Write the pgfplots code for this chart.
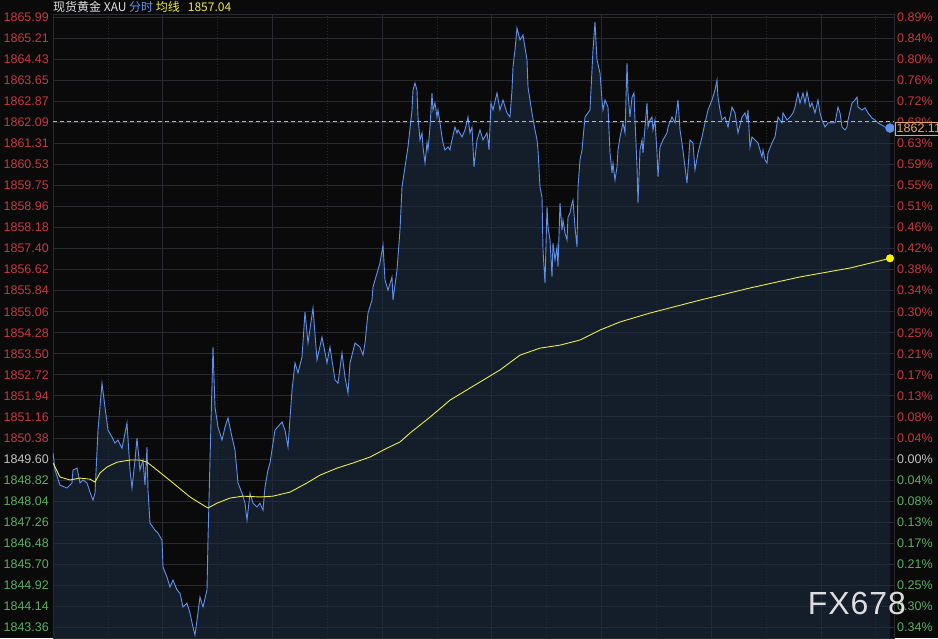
\documentclass[border=0pt]{standalone}
\usepackage{pgfplots}
\pgfplotsset{compat=1.18}
\usepackage{pgfplotstable}
\usepackage{fontspec}
\setmainfont{Liberation Sans}
\newfontfamily\cjk{Noto Sans CJK SC}
\definecolor{bg}{RGB}{10,10,10}
\definecolor{gridc}{RGB}{40,42,48}
\definecolor{upred}{RGB}{200,55,65}
\definecolor{dngreen}{RGB}{90,175,100}
\definecolor{flatgray}{RGB}{195,195,195}
\definecolor{lineblue}{RGB}{95,145,235}
\definecolor{avgyellow}{RGB}{235,235,70}
\definecolor{areafill}{RGB}{28,42,64}
\definecolor{refor}{RGB}{230,170,100}
\definecolor{titlew}{RGB}{225,225,225}
\newcommand\R[1]{\textcolor{upred}{#1}}
\newcommand\G[1]{\textcolor{dngreen}{#1}}

\pgfplotstableread{
x y
53 1849.82
55 1849.19
60 1848.63
67 1848.52
72 1848.71
73 1849.19
77 1849.26
78 1849.08
80 1848.71
83 1848.82
87 1848.71
90 1848.37
93 1848.07
95 1848.33
98 1850.67
102 1852.41
105 1851.52
108 1850.67
112 1850.41
115 1850.19
118 1850.30
122 1850.00
127 1850.93
130 1849.19
132 1848.52
135 1849.56
137 1850.37
140 1849.19
143 1849.56
145 1848.63
147 1850.04
148 1848.45
150 1847.22
155 1846.96
158 1846.85
162 1846.59
163 1845.59
167 1845.22
170 1844.85
173 1845.11
177 1844.74
180 1844.62
183 1844.11
187 1844.25
190 1843.88
193 1843.36
195 1843.07
197 1843.62
200 1844.48
203 1844.11
207 1844.74
208 1846.59
210 1849.56
213 1853.75
215 1851.52
218 1850.78
222 1850.30
225 1850.78
228 1851.12
232 1850.41
235 1849.93
238 1848.71
242 1848.33
245 1847.96
247 1847.33
250 1848.33
253 1847.96
257 1847.82
260 1847.96
263 1847.70
265 1848.56
268 1849.19
270 1849.45
275 1850.67
282 1850.97
285 1850.67
288 1850.04
292 1852.15
295 1853.16
298 1852.79
302 1853.38
305 1855.05
308 1853.90
313 1855.20
317 1853.27
322 1854.12
327 1853.16
330 1853.75
335 1852.53
338 1852.41
342 1853.53
345 1852.64
348 1852.04
350 1853.16
355 1853.90
360 1853.75
363 1853.45
365 1853.90
368 1855.01
372 1855.49
373 1855.98
377 1856.49
380 1856.87
383 1857.53
385 1856.24
388 1855.86
392 1856.35
393 1855.49
397 1856.61
400 1858.09
402 1859.68
405 1860.43
408 1861.17
412 1862.54
413 1863.28
415 1863.54
417 1863.28
418 1862.28
420 1861.43
422 1861.69
423 1861.17
425 1860.57
427 1861.32
428 1861.06
430 1861.91
432 1863.17
433 1862.54
435 1862.80
437 1862.28
438 1862.54
440 1862.06
442 1861.54
443 1861.32
445 1861.06
448 1861.17
450 1861.06
452 1861.43
455 1861.91
457 1861.69
458 1861.80
462 1861.54
465 1861.80
468 1862.28
470 1861.69
472 1861.91
474 1860.43
477 1861.43
480 1861.80
483 1861.43
487 1861.69
488 1861.43
489 1861.06
491 1862.80
493 1862.54
497 1863.17
500 1862.54
503 1862.91
507 1862.43
510 1862.28
512 1863.28
513 1864.14
515 1864.77
517 1865.58
520 1865.14
523 1865.32
527 1864.40
528 1863.39
532 1862.43
535 1861.80
537 1861.43
538 1861.06
540 1859.68
542 1859.31
543 1857.35
545 1856.12
547 1858.94
548 1858.20
550 1857.72
552 1856.35
553 1857.61
555 1856.98
557 1857.46
558 1856.72
560 1859.09
562 1858.09
563 1858.46
565 1857.98
567 1857.72
568 1858.57
570 1858.72
572 1859.09
573 1859.20
575 1858.20
577 1857.46
578 1859.68
580 1860.69
582 1861.06
585 1862.28
590 1862.54
593 1864.77
595 1865.80
597 1864.40
600 1863.91
602 1862.91
603 1862.54
605 1862.91
608 1862.65
610 1860.95
612 1860.20
613 1860.57
615 1859.94
617 1860.43
618 1861.06
620 1861.54
623 1862.06
625 1861.69
627 1864.28
628 1863.17
630 1862.28
632 1863.02
634 1863.17
635 1862.17
637 1860.43
638 1859.09
640 1861.06
642 1861.43
643 1860.95
645 1861.91
647 1862.80
648 1861.91
650 1862.17
652 1862.28
653 1861.80
655 1862.17
657 1860.95
658 1860.06
660 1861.17
663 1861.43
667 1861.69
668 1861.91
672 1862.28
675 1862.06
678 1862.91
680 1861.80
682 1861.32
685 1860.43
687 1859.83
690 1861.43
693 1861.32
695 1860.32
698 1860.95
702 1861.54
705 1862.06
708 1862.54
712 1862.91
715 1863.28
717 1863.65
718 1863.02
720 1862.54
722 1862.17
725 1862.28
728 1861.91
732 1862.65
735 1862.43
738 1861.69
742 1862.28
745 1862.43
747 1862.17
748 1862.54
750 1861.17
752 1861.54
755 1861.43
758 1861.32
762 1860.80
763 1861.06
765 1860.69
767 1860.57
768 1860.95
772 1861.32
775 1861.54
778 1862.28
782 1862.06
783 1862.43
787 1862.17
790 1862.28
793 1862.43
795 1862.65
798 1863.17
800 1862.80
803 1863.17
805 1862.80
807 1863.21
810 1862.65
812 1862.80
815 1862.43
818 1862.91
820 1862.43
822 1862.17
825 1861.91
828 1862.06
832 1862.06
835 1862.06
838 1862.65
840 1862.43
842 1861.91
845 1861.80
847 1861.91
848 1862.17
852 1862.80
855 1862.91
857 1863.02
858 1862.65
862 1862.54
865 1862.62
868 1862.43
872 1862.24
875 1862.17
878 1862.06
882 1861.98
885 1861.91
890 1861.87
}\bluedata

\pgfplotstableread{
x y
53 1849.45
60 1848.93
70 1848.82
80 1848.89
90 1848.85
95 1848.74
100 1849.08
107 1849.30
117 1849.48
130 1849.56
140 1849.56
147 1849.48
157 1849.19
173 1848.71
190 1848.19
203 1847.89
208 1847.78
217 1847.96
230 1848.15
243 1848.22
260 1848.19
273 1848.22
290 1848.37
307 1848.71
320 1849.00
337 1849.26
353 1849.45
370 1849.67
387 1850.00
400 1850.23
410 1850.56
430 1851.15
450 1851.78
470 1852.23
500 1852.90
520 1853.45
540 1853.71
560 1853.82
580 1854.01
600 1854.38
620 1854.68
650 1855.01
700 1855.49
750 1855.94
800 1856.35
850 1856.68
890 1857.04
}\avgdata

\begin{document}
\begin{tikzpicture}
\clip (0,0) rectangle (938pt,638pt);
\fill[bg] (0,0) rectangle (938pt,638pt);
\begin{axis}[
  at={(53pt,0pt)}, anchor=south west,
  scale only axis, width=841pt, height=624pt,
  xmin=53, xmax=894, ymin=1842.96, ymax=1866.10,
  axis line style={draw=gridc},
  xtick={162.7,272.4,382.1,491.8,601.5,711.2,820.9},
  minor xtick={108,217.5,327.2,437,546.6,656.4,766,875.7},
  xticklabels={},
  ytick={1843.36,1844.14,1844.92,1845.70,1846.48,1847.26,1848.04,1848.82,1849.60,1850.38,1851.16,1851.94,1852.72,1853.50,1854.28,1855.06,1855.84,1856.62,1857.40,1858.18,1858.96,1859.75,1860.53,1861.31,1862.09,1862.87,1863.65,1864.43,1865.21,1865.99},
  yticklabels={\G{1843.36},\G{1844.14},\G{1844.92},\G{1845.70},\G{1846.48},\G{1847.26},\G{1848.04},\G{1848.82},\textcolor{flatgray}{1849.60},\R{1850.38},\R{1851.16},\R{1851.94},\R{1852.72},\R{1853.50},\R{1854.28},\R{1855.06},\R{1855.84},\R{1856.62},\R{1857.40},\R{1858.18},\R{1858.96},\R{1859.75},\R{1860.53},\R{1861.31},\R{1862.09},\R{1862.87},\R{1863.65},\R{1864.43},\R{1865.21},\R{1865.99}},
  ymajorgrids, xmajorgrids, xminorgrids,
  major grid style={draw=gridc, line width=0.8pt},
  minor grid style={draw=gridc, line width=0.6pt, dash pattern=on 1pt off 2pt},
  major tick length=0pt, minor tick length=0pt,
  tick style={draw=none},
  yticklabel style={font=\fontsize{12.5}{14}\selectfont, anchor=east, inner sep=0pt, xshift=-4pt},
]
\addplot[fill=areafill, fill opacity=0.6, draw=none, forget plot] table[x=x,y=y] {\bluedata} -- (axis cs:890,1842.96) -- (axis cs:53,1842.96) -- cycle;
\addplot[lineblue, line width=0.9pt] table[x=x,y=y] {\bluedata};
\addplot[avgyellow, line width=0.9pt] table[x=x,y=y] {\avgdata};
\addplot[refor, line width=0.8pt, dash pattern=on 4pt off 3pt] coordinates {(53,1862.11) (894,1862.11)};
\addplot[only marks, mark=*, mark size=4.5pt, lineblue] coordinates {(890,1861.87)};
\addplot[only marks, mark=*, mark size=3.8pt, yellow] coordinates {(890,1857.04)};
\end{axis}
\begin{axis}[
  at={(53pt,0pt)}, anchor=south west,
  scale only axis, width=841pt, height=624pt,
  xmin=53, xmax=894, ymin=1842.96, ymax=1866.10,
  hide x axis, axis y line*=right,
  axis line style={draw=gridc},
  ytick={1843.36,1844.14,1844.92,1845.70,1846.48,1847.26,1848.04,1848.82,1849.60,1850.38,1851.16,1851.94,1852.72,1853.50,1854.28,1855.06,1855.84,1856.62,1857.40,1858.18,1858.96,1859.75,1860.53,1861.31,1862.09,1862.87,1863.65,1864.43,1865.21,1865.99},
  yticklabels={\G{0.34\%},\G{0.30\%},\G{0.25\%},\G{0.21\%},\G{0.17\%},\G{0.13\%},\G{0.08\%},\G{0.04\%},\textcolor{flatgray}{0.00\%},\R{0.04\%},\R{0.08\%},\R{0.13\%},\R{0.17\%},\R{0.21\%},\R{0.25\%},\R{0.30\%},\R{0.34\%},\R{0.38\%},\R{0.42\%},\R{0.46\%},\R{0.51\%},\R{0.55\%},\R{0.59\%},\R{0.63\%},\R{0.68\%},\R{0.72\%},\R{0.76\%},\R{0.80\%},\R{0.84\%},\R{0.89\%}},
  major tick length=0pt, tick style={draw=none},
  yticklabel style={font=\fontsize{12.5}{14}\selectfont, anchor=west, inner sep=0pt, xshift=3pt},
]
\addplot[draw=none] coordinates {(53,1850) (894,1850)};
\end{axis}
\node[overlay, draw=refor, fill=bg, text=refor, anchor=west, inner sep=2pt, font=\fontsize{12.5}{14}\selectfont] at (894.5pt,509.4pt) {1862.11};
\node[overlay, anchor=west, inner sep=0pt, font=\cjk\fontsize{12}{14}\selectfont] at (53pt,631pt) {\textcolor{titlew}{现货黄金 XAU} \textcolor{lineblue}{分时} \textcolor{avgyellow}{均线}\hspace{8pt}\textcolor{avgyellow}{1857.04}};
\node[overlay, font=\fontsize{32}{32}\selectfont\addfontfeature{LetterSpace=3}, text=white!90!gray, opacity=0.9] at (857pt,35pt) {FX678};
\end{tikzpicture}
\end{document}
